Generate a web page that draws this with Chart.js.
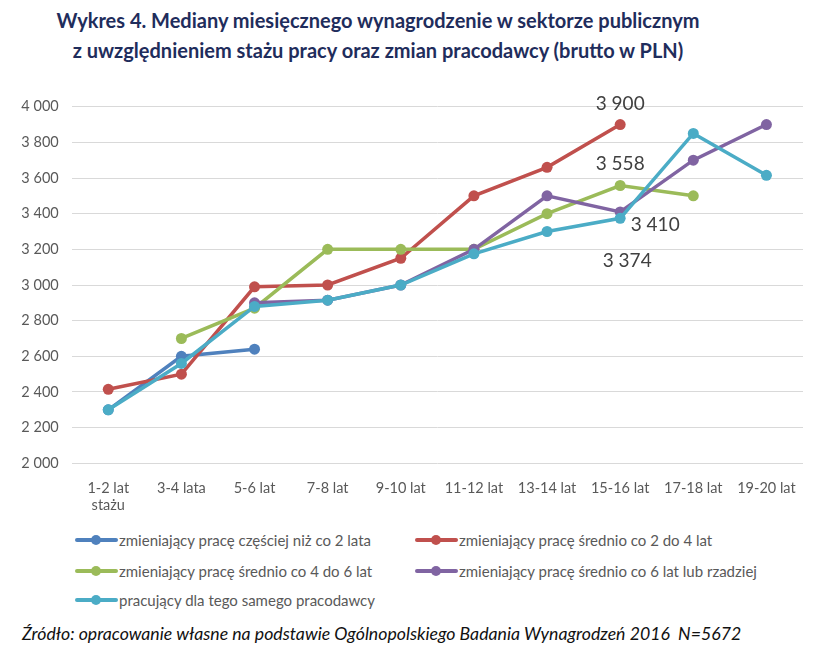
<!DOCTYPE html>
<html>
<head>
<meta charset="utf-8">
<script src="https://cdn.jsdelivr.net/npm/chart.js@4.4.1/dist/chart.umd.min.js"></script>
<style>
    body { margin: 0; background: #fff; }
    #wrap { position: relative; width: 815px; height: 655px; font-family: Lato, sans-serif; overflow: hidden; }
    #title { position: absolute; top: 5px; left: 0; width: 756px; text-align: center; font-weight: bold;
             font-size: 20px; line-height: 30px; color: #1f2d5c; }
    #chart { position: absolute; left: 0; top: 0; }
    #legend { position: absolute; left: 75px; top: 530px; width: 740px; }
    .item { position: absolute; white-space: nowrap; font-size: 15px; color: #595959; height: 20px; line-height: 20px; }
    .mark { position: absolute; left: 0; top: 8px; width: 43px; height: 4px; border-radius: 2px; }
    .mark i { position: absolute; left: 16px; top: -3px; width: 10px; height: 10px; border-radius: 50%; background: inherit; }
    .item span { position: absolute; left: 44px; }
    #source { position: absolute; left: 22px; top: 623px; font-style: italic; font-size: 17.7px; color: #111; white-space: nowrap; }
</style>
</head>
<body>
<div id="wrap">
    <div id="title">Wykres 4. Mediany miesięcznego wynagrodzenie w sektorze publicznym<br>z uwzględnieniem stażu pracy oraz zmian pracodawcy (brutto w PLN)</div>
    <canvas id="chart" width="815" height="520"></canvas>
    <div id="legend"></div>
    <div id="source">Źródło: opracowanie własne na podstawie Ogólnopolskiego Badania Wynagrodzeń 2016&nbsp; N=5672</div>
</div>
<script>
const categories = [['1-2 lat', 'stażu'], '3-4 lata', '5-6 lat', '7-8 lat', '9-10 lat',
    '11-12 lat', '13-14 lat', '15-16 lat', '17-18 lat', '19-20 lat'];

const seriesNames = [
    'zmieniający pracę częściej niż co 2 lata',
    'zmieniający pracę średnio co 2 do 4 lat',
    'zmieniający pracę średnio co 4 do 6 lat',
    'zmieniający pracę średnio co 6 lat lub rzadziej',
    'pracujący dla tego samego pracodawcy'
];
const seriesColors = ['#4F81BD', '#C0504D', '#9BBB59', '#8064A2', '#4BACC6'];

const lessThan2 = [2300, 2600, 2640, null, null, null, null, null, null, null];
const from2to4 = [2415, 2500, 2990, 3000, 3150, 3500, 3660, 3900, null, null];
const from4to6 = [null, 2700, 2870, 3200, 3200, 3200, 3400, 3558, 3500, null];
const over6 = [null, null, 2900, 2915, 3000, 3200, 3500, 3410, 3700, 3900];
const sameEmployer = [2300, 2560, 2880, 2915, 3000, 3175, 3300, 3374, 3850, 3615];

const seriesValues = [lessThan2, from2to4, from4to6, over6, sameEmployer];

function formatPLN(v) {
    if (v >= 1000) return Math.floor(v / 1000) + ' ' + String(v % 1000).padStart(3, '0');
    return String(v);
}

// labels written next to chosen points (dataset, index, offset in px)
const pointLabels = [
    {ds: 1, i: 7, dx: 0, dy: -21},
    {ds: 2, i: 7, dx: 0, dy: -22},
    {ds: 3, i: 7, dx: 35, dy: 13},
    {ds: 4, i: 7, dx: 7, dy: 43}
];

const labelPlugin = {
    id: 'pointLabels',
    afterDatasetsDraw(chart) {
        const c = chart.ctx;
        c.save();
        c.font = '19px Lato, sans-serif';
        c.fillStyle = '#404040';
        c.textAlign = 'center';
        c.textBaseline = 'middle';
        pointLabels.forEach(l => {
            const pt = chart.getDatasetMeta(l.ds).data[l.i];
            c.fillText(formatPLN(seriesValues[l.ds][l.i]), pt.x + l.dx, pt.y + l.dy);
        });
        c.restore();
    }
};

// draw order: the last series sits on top
const drawOrder = [4, 3, 2, 1, 0];

const ctx = document.getElementById('chart').getContext('2d');
const chart = new Chart(ctx, {
    type: 'line',
    data: {
        labels: categories,
        datasets: seriesValues.map((vals, k) => ({
            label: seriesNames[k],
            data: vals,
            borderColor: seriesColors[k],
            backgroundColor: seriesColors[k],
            pointBackgroundColor: seriesColors[k],
            pointBorderWidth: 0,
            pointRadius: 5.5,
            borderWidth: 3.5,
            tension: 0,
            fill: false,
            order: drawOrder[k]
        }))
    },
    options: {
        responsive: false,
        animation: false,
        layout: {padding: {top: 106.7, right: 12, left: 0, bottom: 0}},
        plugins: {
            legend: {display: false},
            title: {display: false},
            tooltip: {enabled: false}
        },
        scales: {
            x: {
                offset: true,
                grid: {display: false},
                border: {display: false},
                ticks: {
                    color: '#595959',
                    font: {family: 'Lato', size: 14.5},
                    padding: 8,
                    maxRotation: 0,
                    autoSkip: false
                },
                afterFit: function (scale) { scale.height = 56.7; }
            },
            y: {
                min: 2000,
                max: 4000,
                grid: {color: '#D9D9D9', lineWidth: 1, drawTicks: false},
                border: {display: false},
                ticks: {
                    stepSize: 200,
                    color: '#595959',
                    font: {family: 'Lato', size: 14.5},
                    padding: 13,
                    callback: function (value) { return formatPLN(value); }
                },
                afterFit: function (scale) { scale.width = 71.7; }
            }
        }
    },
    plugins: [labelPlugin]
});

// legend in two columns below the chart
const legendPos = [[0, 0], [340, 0], [0, 31], [340, 31], [0, 60]];
const legend = document.getElementById('legend');
seriesNames.forEach((name, k) => {
    const d = document.createElement('div');
    d.className = 'item';
    d.style.left = legendPos[k][0] + 'px';
    d.style.top = legendPos[k][1] + 'px';
    d.innerHTML = '<div class="mark" style="background:' + seriesColors[k] + '"><i></i></div><span>' + name + '</span>';
    legend.appendChild(d);
});
</script>
</body>
</html>
